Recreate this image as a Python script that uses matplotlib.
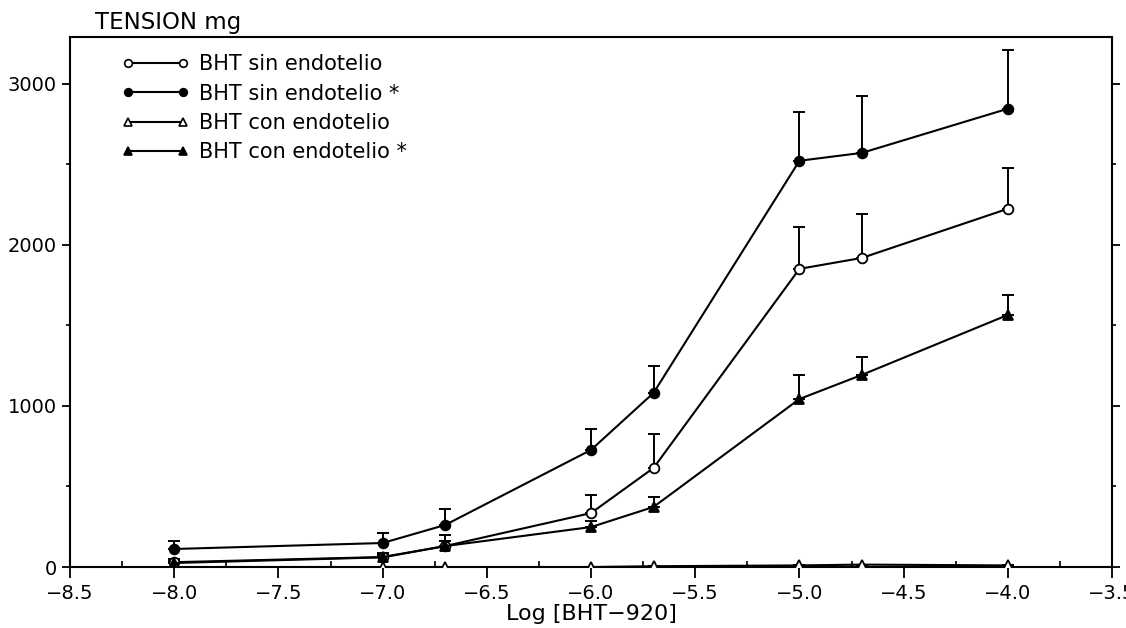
import matplotlib.pyplot as plt
from matplotlib.lines import Line2D
from matplotlib.ticker import MultipleLocator

log_conc = [-8.0, -7.0, -6.7, -6.0, -5.7, -5.0, -4.7, -4.0]

sin_endo = [30, 62, 130, 335, 615, 1851, 1919, 2224]
sin_endo_err = [20, 25, 30, 112, 211, 261, 274, 254]

sin_endo_ast = [112, 149, 261, 727, 1081, 2522, 2571, 2845]
sin_endo_ast_err = [49, 62, 99, 130, 167, 304, 354, 366]

con_endo = [0, 0, 0, 0, 5, 10, 15, 10]
con_endo_err = [0, 0, 0, 0, 0, 0, 0, 0]

con_endo_ast = [25, 60, 130, 248, 373, 1043, 1193, 1565]
con_endo_ast_err = [15, 15, 70, 40, 62, 150, 111, 124]

labels = ['BHT sin endotelio', 'BHT sin endotelio *',
          'BHT con endotelio', 'BHT con endotelio *']

plt.rcParams['font.family'] = ['DejaVu Sans']
fig = plt.figure(figsize=(11.26, 6.28), dpi=100)
ax = fig.add_axes([0.0622, 0.0971, 0.9254, 0.8439])

series = [
    (sin_endo, sin_endo_err, 'o', 'white'),
    (sin_endo_ast, sin_endo_ast_err, 'o', 'black'),
    (con_endo, con_endo_err, '^', 'white'),
    (con_endo_ast, con_endo_ast_err, '^', 'black'),
]
handles = []
for (vals, err, mk, fc), lab in zip(series, labels):
    low = [0] * len(err)
    ax.errorbar(log_conc, vals, yerr=[low, err], fmt='none', ecolor='black',
                elinewidth=1.4, capsize=4, capthick=1.4, zorder=2)
    ax.plot(log_conc, vals, color='black', lw=1.5, marker=mk,
            markersize=7 if mk == 'o' else 7.5, markerfacecolor=fc,
            markeredgecolor='black', markeredgewidth=1.3, zorder=3)
    # smaller markers for the key, like the original
    handles.append(Line2D([], [], color='black', lw=1.5, marker=mk, markersize=5.5,
                          markerfacecolor=fc, markeredgecolor='black',
                          markeredgewidth=1.2, label=lab))

ax.set_xlim(-8.5, -3.5)
ax.set_ylim(0, 3290)
ax.xaxis.set_major_locator(MultipleLocator(0.5))
ax.xaxis.set_minor_locator(MultipleLocator(0.25))
ax.yaxis.set_major_locator(MultipleLocator(1000))
ax.yaxis.set_minor_locator(MultipleLocator(500))
ax.xaxis.set_major_formatter(plt.FuncFormatter(lambda v, p: f'{v:.1f}'.replace('-', '\u2212')))
ax.tick_params(axis='x', which='major', direction='out', length=8, width=1.3, labelsize=14, pad=4)
ax.tick_params(axis='x', which='minor', direction='in', length=4, width=1.2)
ax.tick_params(axis='y', which='major', direction='out', length=6, width=1.3, labelsize=14,
               right=True)
ax.tick_params(axis='y', which='minor', direction='out', length=3, width=1.2, right=True)
for sp in ax.spines.values():
    sp.set_linewidth(1.5)

ax.text(0.024, 1.006, 'TENSION mg', transform=ax.transAxes, fontsize=16.5,
        ha='left', va='bottom')
ax.set_xlabel('Log [BHT\u2212920]', fontsize=16, labelpad=1)

ax.legend(handles=handles, loc='upper left', bbox_to_anchor=(0.032, 1.003),
          numpoints=2, frameon=False, fontsize=15, handlelength=3.2,
          labelspacing=0.45, handletextpad=0.5)

fig.savefig('out.png', dpi=100)
